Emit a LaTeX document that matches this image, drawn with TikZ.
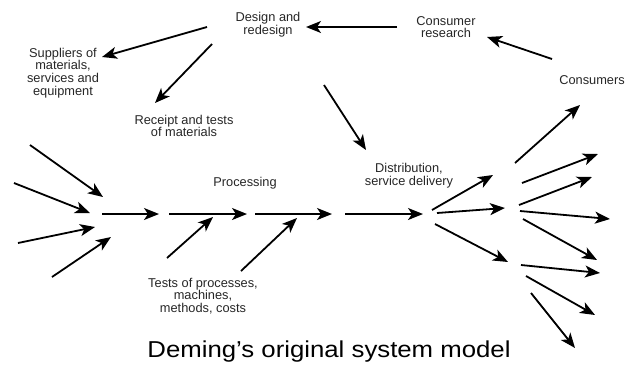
\documentclass[tikz,border=0pt]{standalone}
\usepackage{fontspec}
\setmainfont{Liberation Sans}
\usetikzlibrary{arrows.meta}
\tikzset{
  arr/.style={line width=1.8pt, -{Stealth[length=15pt,width=12pt,inset=4pt]}},
  lbl/.style={align=center, text=black!85, font=\fontsize{12.8}{12.8}\selectfont, inner sep=0pt},
  ttl/.style={font=\fontsize{23}{25}\selectfont, inner sep=0pt, xscale=1.12}
}
\begin{document}
\begin{tikzpicture}[x=1pt,y=-1pt]
\useasboundingbox (0,0) rectangle (631,365);

% labels
\node[lbl] (design)   at (268,25)  {Design and\\redesign};
\node[lbl] (research) at (446,27)  {Consumer\\research};
\node[lbl] (consum)   at (592,80)  {Consumers};
\node[lbl] (suppl)    at (63,73)   {Suppliers of\\materials,\\services and\\equipment};
\node[lbl] (receipt)  at (184,126) {Receipt and tests\\of materials};
\node[lbl] (proc)     at (245,183) {Processing};
\node[lbl] (distr)    at (409,176) {Distribution,\\service delivery};
\node[lbl] (tests)    at (203,296) {Tests of processes,\\machines,\\methods, costs};
\node[ttl] (title)    at (329,352) {Deming’s original system model};

% feedback loop at the top
\draw[arr] (397,27) -- (306,27);
\draw[arr] (552,59) -- (487,37);
\draw[arr] (207,27) -- (102,57);
\draw[arr] (212,44) -- (155,103);
\draw[arr] (324,85) -- (366,150);

% incoming supplies
\draw[arr] (30,145) -- (103,197);
\draw[arr] (14,183) -- (90,213);
\draw[arr] (18,243) -- (95,227);
\draw[arr] (52,277) -- (111,237);

% main production chain
\draw[arr] (102,214) -- (159,214);
\draw[arr] (169,214) -- (247,214);
\draw[arr] (255,214) -- (332,214);
\draw[arr] (345,214) -- (423,214);

% tests feeding into processing
\draw[arr] (167,258) -- (213,217);
\draw[arr] (241,271) -- (297,218);

% distribution fan
\draw[arr] (432,210) -- (493,175);
\draw[arr] (437,213) -- (505,208);
\draw[arr] (435,224) -- (508,262);

% consumer fan
\draw[arr] (515,163) -- (580,105);
\draw[arr] (522,183) -- (598,154);
\draw[arr] (519,205) -- (592,177);
\draw[arr] (520,211) -- (610,219);
\draw[arr] (523,219) -- (597,260);
\draw[arr] (521,265) -- (600,273);
\draw[arr] (526,276) -- (595,315);
\draw[arr] (531,293) -- (575,348);
\end{tikzpicture}
\end{document}
